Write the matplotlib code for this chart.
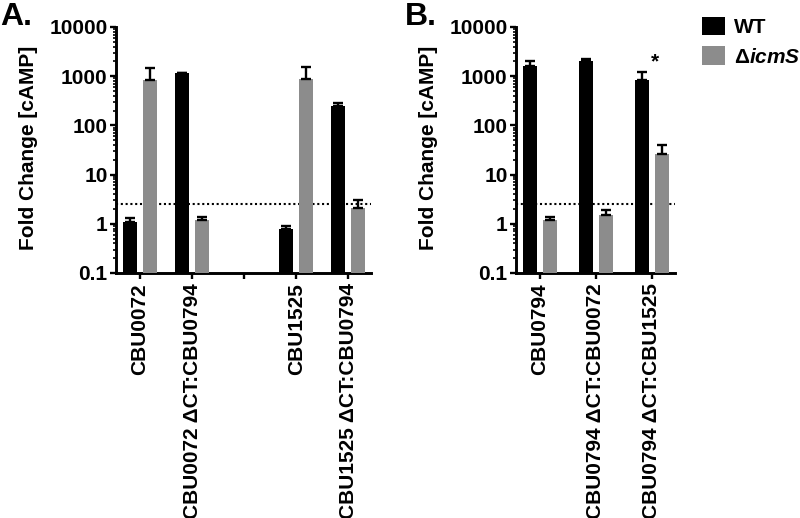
import numpy as np
import matplotlib
matplotlib.use("Agg")
import matplotlib.pyplot as plt
from matplotlib.patches import Patch

# ── Data ─────────────────────────────────────────────────────────────────────
labels_a  = ["CBU0072", "CBU0072 ΔCT:CBU0794", "", "CBU1525", "CBU1525 ΔCT:CBU0794"]
wt_a      = [1.08, 1155, np.nan, 0.79, 246]
wt_a_err  = [0.22, 25, np.nan, 0.12, 37]
ko_a      = [819, 1.17, np.nan, 858, 2.11]
ko_a_err  = [640, 0.20, np.nan, 660, 0.87]

labels_b  = ["CBU0794", "CBU0794 ΔCT:CBU0072", "CBU0794 ΔCT:CBU1525"]
wt_b      = [1577, 1990, 819]
wt_b_err  = [410, 270, 390]
ko_b      = [1.22, 1.52, 25.7]
ko_b_err  = [0.15, 0.35, 13.3]

threshold = 2.5
yticks    = [0.1, 1, 10, 100, 1000, 10000]
ytick_lbl = ["0.1", "1", "10", "100", "1000", "10000"]

BLACK = "#000000"
GRAY  = "#8c8c8c"
FONT  = "Liberation Sans"
FS    = 15

plt.rcParams["font.family"] = [FONT, "DejaVu Sans"]
plt.rcParams["font.weight"] = "bold"
plt.rcParams["mathtext.fontset"] = "custom"
plt.rcParams["mathtext.it"] = "Liberation Sans:italic:bold"
plt.rcParams["mathtext.rm"] = "Liberation Sans:bold"

fig = plt.figure(figsize=(8, 5.18), dpi=100, facecolor="white")
ax_a = fig.add_axes([0.145, 0.473, 0.319, 0.475])
ax_b = fig.add_axes([0.645, 0.473, 0.199, 0.475])


def draw_panel(ax, labels, wt, wt_err, ko, ko_err, width, off, xlim, ylab_x):
    x = np.arange(len(labels))
    wt = np.array(wt, dtype=float)
    ko = np.array(ko, dtype=float)
    keep = ~np.isnan(wt)
    xs = x[keep]
    ax.axhline(threshold, color="black", lw=1.5, ls=(0, (1, 1.3)), zorder=1)
    ax.bar(xs - off, wt[keep], width, color=BLACK, zorder=3)
    ax.bar(xs + off, ko[keep], width, color=GRAY, zorder=3)
    for pos, h, e in ((xs - off, wt[keep], np.array(wt_err, float)[keep]),
                      (xs + off, ko[keep], np.array(ko_err, float)[keep])):
        ax.errorbar(pos, h, yerr=[np.zeros_like(e), e], fmt="none",
                    ecolor="black", elinewidth=1.7, capsize=3.5, capthick=1.7, zorder=4)
    ax.set_yscale("log")
    ax.set_ylim(0.1, 10000)
    ax.set_xlim(*xlim)
    ax.set_yticks(yticks)
    ax.set_yticklabels(ytick_lbl, fontsize=FS, fontweight="bold")
    ax.set_xticks(x)
    ax.set_xticklabels(labels, rotation=90, fontsize=FS, fontweight="bold", va="top")
    ax.tick_params(axis="y", which="major", length=4.5, width=1.7, pad=1.5)
    ax.tick_params(axis="y", which="minor", length=2.5, width=1.2)
    ax.tick_params(axis="x", length=4.5, width=1.7, pad=3)
    for s in ("top", "right"):
        ax.spines[s].set_visible(False)
    for s in ("left", "bottom"):
        ax.spines[s].set_linewidth(2.1)
    ax.set_ylabel("Fold Change [cAMP]", fontsize=FS, fontweight="bold")
    ax.yaxis.set_label_coords(ylab_x, 0.51)


draw_panel(ax_a, labels_a, wt_a, wt_a_err, ko_a, ko_a_err,
           0.27, 0.19, (-0.46, 4.44), -0.306)
draw_panel(ax_b, labels_b, wt_b, wt_b_err, ko_b, ko_b_err,
           0.25, 0.18, (-0.43, 2.42), -0.49)

ax_b.text(2.06, 1480, "*", fontsize=FS, fontweight="bold", ha="center", va="baseline")

fig.text(0.0, 0.997, "A.", fontsize=23, fontweight="bold", ha="left", va="top")
fig.text(0.506, 0.997, "B.", fontsize=23, fontweight="bold", ha="left", va="top")

handles = [Patch(facecolor=BLACK, edgecolor="none"), Patch(facecolor=GRAY, edgecolor="none")]
fig.legend(handles, ["WT", "Δ$\\mathit{icmS}$"], loc="upper left",
           bbox_to_anchor=(0.877, 0.968), frameon=False,
           prop={"family": FONT, "weight": "bold", "size": FS},
           handlelength=1.1, handleheight=1.0, handletextpad=0.45,
           labelspacing=0.45, borderaxespad=0, borderpad=0)

fig.savefig("out.png", dpi=100, facecolor="white")
